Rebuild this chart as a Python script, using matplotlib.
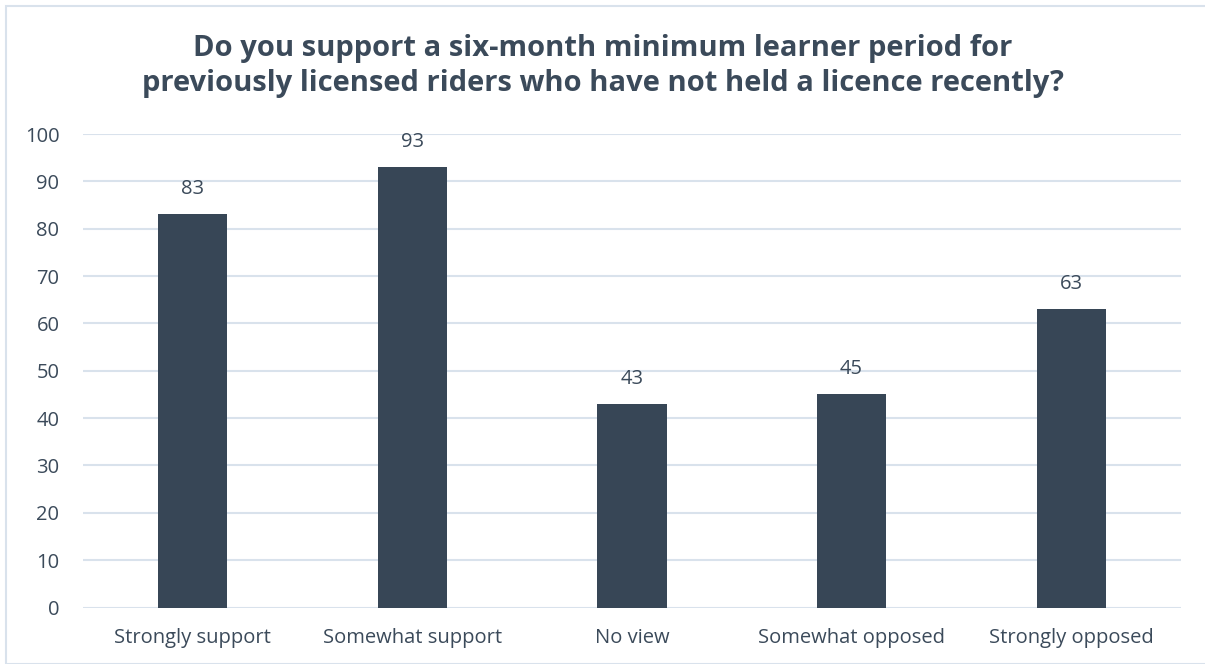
import matplotlib
matplotlib.use('Agg')
import matplotlib.pyplot as plt
from matplotlib.patches import Rectangle

categories = ['Strongly support', 'Somewhat support', 'No view', 'Somewhat opposed', 'Strongly opposed']
counts = [83, 93, 43, 45, 63]
yticks = [0, 10, 20, 30, 40, 50, 60, 70, 80, 90, 100]

bar_color = '#374656'
text_color = '#3b4a5a'
grid_color = '#d9e2ec'

plt.rcParams['font.family'] = ['Open Sans', 'DejaVu Sans']

fig = plt.figure(figsize=(12.05, 6.64), dpi=100)
# thin frame round the whole chart
fig.patches.append(Rectangle((6 / 1205, 0), 1.2, 1 - 6 / 664, transform=fig.transFigure,
                             fill=False, edgecolor=grid_color, linewidth=1.5))

ax = fig.add_axes([83 / 1205, 1 - 607.5 / 664, 1098 / 1205, (607.5 - 134) / 664])
x = range(len(categories))
bars = ax.bar(x, counts, width=0.315, color=bar_color, zorder=3)

for rect, v in zip(bars, counts):
    ax.annotate(str(v), (rect.get_x() + rect.get_width() / 2, v), xytext=(0, 11),
                textcoords='offset points', ha='center', va='bottom',
                fontsize=14.5, color=text_color)

ax.set_xlim(-0.5, len(categories) - 0.5)
ax.set_ylim(0, 100)
ax.set_yticks(yticks)
ax.set_xticks(list(x))
ax.set_xticklabels(categories)
ax.yaxis.grid(True, color=grid_color, linewidth=1.5, zorder=0)
ax.tick_params(axis='both', length=0, labelsize=14.5, labelcolor=text_color)
ax.tick_params(axis='y', pad=17)
ax.tick_params(axis='x', pad=15)
for s in ax.spines.values():
    s.set_visible(False)

fig.text(0.5, 1 - 66 / 664, 'Do you support a six-month minimum learner period for\n'
         'previously licensed riders who have not held a licence recently?',
         ha='center', va='center', fontsize=21, fontweight='bold', color=text_color,
         linespacing=1.3)

fig.savefig('out.png', dpi=100)
